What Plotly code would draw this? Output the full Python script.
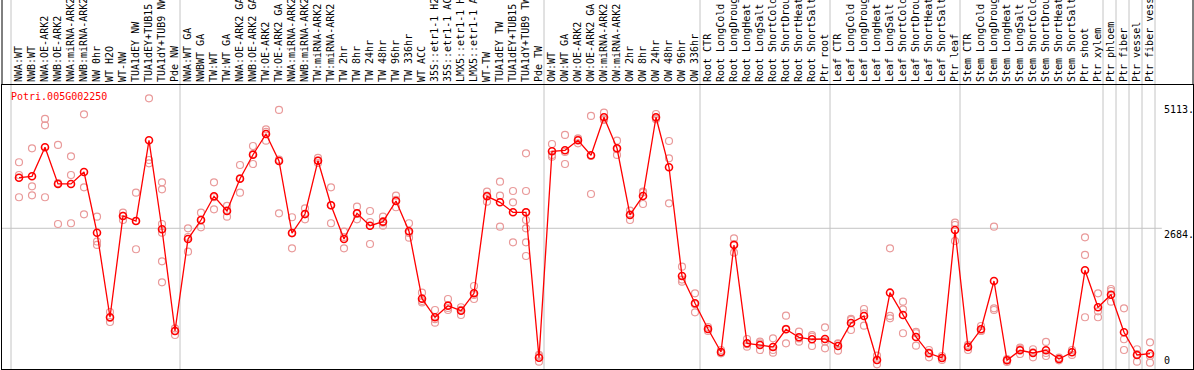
import plotly.graph_objects as go

# ---------------- data ----------------
labels = [
    "NWA:WT", "NWB:WT", "NWA:OE-ARK2", "NWB:OE-ARK2", "NWA:miRNA-ARK2", "NWB:miRNA-ARK2",
    "NW 0hr", "WT H2O", "WT-NW", "TUA1dEY NW", "TUA1dEY+TUB15 NW", "TUA1dY+TUB9 NW", "Pde NW",
    "NWA:WT GA", "NWBWT GA", "TW:WT", "TW:WT GA", "NWA:OE-ARK2 GA", "NWB:OE-ARK2 GA",
    "TW:OE-ARK2", "TW:OE-ARK2 GA", "NWA:miRNA-ARK2", "NWB:miRNA-ARK2", "TW:miRNA-ARK2",
    "TW:miRNA-ARK2", "TW 2hr", "TW 8hr", "TW 24hr", "TW 48hr", "TW 96hr", "TW 336hr", "WT ACC",
    "35S::etr1-1 H2O", "35S::etr1-1 ACC", "LMX5::etr1-1 H2O", "LMX5::etr1-1 ACC", "WT-TW",
    "TUA1dEY TW", "TUA1dEY+TUB15 TW", "TUA1dY+TUB9 TW", "Pde TW",
    "OW:WT", "OW:WT GA", "OW:OE-ARK2", "OW:OE-ARK2 GA", "OW:miRNA-ARK2", "OW:miRNA-ARK2",
    "OW 2hr", "OW 8hr", "OW 24hr", "OW 48hr", "OW 96hr", "OW 336hr",
    "Root CTR", "Root LongCold", "Root LongDrought", "Root LongHeat", "Root LongSalt",
    "Root ShortCold", "Root ShortDrought", "Root ShortHeat", "Root ShortSalt", "Ptr root",
    "Leaf CTR", "Leaf LongCold", "Leaf LongDrought", "Leaf LongHeat", "Leaf LongSalt",
    "Leaf ShortCold", "Leaf ShortDrought", "Leaf ShortHeat", "Leaf ShortSalt", "Ptr leaf",
    "Stem CTR", "Stem LongCold", "Stem LongDrought", "Stem LongHeat", "Stem LongSalt",
    "Stem ShortCold", "Stem ShortDrought", "Stem ShortHeat", "Stem ShortSalt", "Ptr shoot",
    "Ptr xylem", "Ptr phloem", "Ptr fiber", "Ptr vessel", "Ptr fiber vessel",
]

mean_values = [
    3661, 3688, 4248, 3540, 3540, 3771, 2599, 966, 2922, 2825, 4383, 2665, 701,
    2477, 2844, 3302, 3018, 3642, 4105, 4505, 3984, 2593, 2960, 3989, 3128, 2477, 2974,
    2734, 2812, 3211, 2626, 1325, 966, 1190, 1093, 1429, 3302, 3186, 2993, 2993, 185,
    4171, 4190, 4383, 4094, 4828, 4229, 2941, 3308, 4828, 3862, 1763, 1236,
    740, 295, 2362, 463, 431, 392, 734, 579, 541, 546,
    411, 855, 991, 141, 1441, 1010, 585, 270, 180, 2651,
    392, 734, 1666, 135, 328, 276, 328, 160, 290, 1873,
    1159, 1402, 676, 238, 263,
]

replicate_values = [
    [3959, 3713, 3283], [4229, 3495, 3321], [4795, 4673, 3283], [4293, 3559, 2767],
    [4074, 3713, 2781], [4885, 3476, 2954], [2908, 2429, 2362], [1068, 952, 875],
    [2985, 2922, 2844], [3372, 2825, 2279], [5194, 4003, 3939],
    [3572, 3437, 2767, 2599, 2047, 1641], [753, 701, 624],
    [2684, 2516, 2232], [2985, 2844, 2703], [3572, 3283, 3051], [3115, 3032, 2908],
    [3906, 3648, 3372], [4273, 4119, 3926], [4596, 4544, 4376], [4969, 4009, 2974],
    [2897, 2586, 2298], [3070, 2953, 2858], [4042, 3989, 3945], [3476, 3128, 2781],
    [2618, 2516, 2298], [3101, 2960, 2858], [3018, 2806, 2381], [2908, 2792, 2734],
    [3314, 3231, 3090], [2781, 2593, 2503], [1441, 1280, 1253], [1106, 929, 861],
    [1319, 1145, 1106], [1159, 1110, 1010], [1570, 1396, 1319], [3391, 3317, 3198],
    [3584, 3314, 2715], [3404, 3186, 2414], [4132, 3404, 2993, 2844, 2684, 2414, 2149],
    [238, 218, 108],
    [4312, 4100, 4067], [4486, 4157, 3926], [4422, 4403, 4325], [4853, 4080, 3346],
    [4916, 4789, 4775], [4376, 4212, 4100], [3024, 2954, 2844], [3391, 3379, 3153],
    [4891, 4802, 4789], [4370, 4036, 3167], [1943, 1693, 1653], [1429, 1217, 1062],
    [778, 740, 701], [334, 282, 270], [2491, 2381, 2213], [546, 446, 398], [494, 463, 334],
    [560, 334, 282], [996, 740, 463], [687, 556, 494], [620, 590, 411], [772, 500, 367],
    [463, 450, 321], [933, 913, 720], [1126, 1043, 803], [224, 141, 58], [2298, 991, 946],
    [1267, 1120, 657], [682, 657, 417], [334, 282, 193], [218, 180, 141], [2792, 2748, 2439],
    [431, 411, 334], [797, 701, 701], [2715, 1139, 1106], [160, 135, 102], [378, 350, 257],
    [348, 288, 193], [489, 276, 218], [185, 160, 135], [334, 295, 238], [2510, 2169, 966],
    [1429, 1081, 966], [1512, 1473, 1267], [1139, 541, 334], [348, 257, 108], [483, 218, 89],
]

group_starts = [0, 13, 41, 53, 63, 73, 84, 85, 86, 87, 88]
y_tick_values = [5113, 2684, 0]
y_tick_labels = ["5113.", "2684.", "0"]
gene_name = "Potri.005G002250"

# ---------------- layout constants ----------------
W, H = 1194, 370
ML, MR, MT, MB = 2, 1, 85, 1
PW, PH = W - ML - MR, H - MT - MB
STEP = 13.0                      # pixels per category
x_lo = -17.0 / STEP
x_hi = x_lo + PW / STEP
y_range = [-33, 5451]
MONO = "DejaVu Sans Mono"


def xpaper(v):
    return (v - x_lo) / (x_hi - x_lo)


rep_x, rep_y = [], []
for i, reps in enumerate(replicate_values):
    for v in reps:
        rep_x.append(i)
        rep_y.append(v)

cats = list(range(len(labels)))

fig = go.Figure()
fig.add_trace(go.Scatter(
    x=rep_x, y=rep_y, mode="markers",
    marker=dict(symbol="circle-open", size=7, color="#e99a9a", line=dict(width=1.2)),
    hoverinfo="skip", showlegend=False,
))
fig.add_trace(go.Scatter(
    x=cats, y=mean_values, mode="lines+markers",
    line=dict(color="#ff0000", width=1.3),
    marker=dict(symbol="circle-open", size=7, color="#ff0000", line=dict(width=1.6)),
    showlegend=False,
))

shapes = []
top_paper = 1 + MT / PH
for g in group_starts:
    xp = xpaper(g - 0.615)
    shapes.append(dict(type="line", xref="paper", yref="paper", x0=xp, x1=xp,
                       y0=0, y1=top_paper, line=dict(color="#c4c4c4", width=1), layer="below"))
# horizontal reference line
label_x = (1163 - ML) / PW
shapes.append(dict(type="line", xref="paper", yref="y", x0=0, x1=label_x - 0.001,
                   y0=y_tick_values[1], y1=y_tick_values[1],
                   line=dict(color="#c4c4c4", width=1), layer="below"))
# outer frame extending through the label band
for xp in (0, 1):
    shapes.append(dict(type="line", xref="paper", yref="paper", x0=xp, x1=xp,
                       y0=1, y1=top_paper, line=dict(color="black", width=1)))

annotations = [dict(text=gene_name, xref="paper", yref="paper",
                    x=(9 - ML) / PW, y=(H - MB - 96.7) / PH, xanchor="left", yanchor="middle",
                    showarrow=False, font=dict(family=MONO, size=10, color="#ff0000"))]
for v, t in zip(y_tick_values, y_tick_labels):
    annotations.append(dict(text=t, xref="paper", yref="y", x=label_x, y=v,
                            xanchor="left", yanchor="bottom" if v == 0 else "top",
                            showarrow=False, borderpad=0,
                            font=dict(family=MONO, size=10, color="black")))

fig.update_layout(
    width=W, height=H,
    margin=dict(l=ML, r=MR, t=MT, b=MB, pad=0),
    paper_bgcolor="white", plot_bgcolor="white",
    shapes=shapes, annotations=annotations,
    xaxis=dict(range=[x_lo, x_hi], tickmode="array", tickvals=cats, ticktext=labels,
               side="top", tickangle=-90, ticks="", ticklen=0,
               tickfont=dict(family=MONO, size=10, color="black"),
               showgrid=False, zeroline=False, showline=True, mirror=True,
               linecolor="black", linewidth=1, automargin=False),
    yaxis=dict(range=y_range, showticklabels=False, showgrid=False, zeroline=False,
               showline=True, mirror=True, linecolor="black", linewidth=1,
               automargin=False),
)

fig.write_html("out.html", config={"displayModeBar": False},
               post_script="document.body.style.margin='0';document.body.style.overflow='hidden';")
